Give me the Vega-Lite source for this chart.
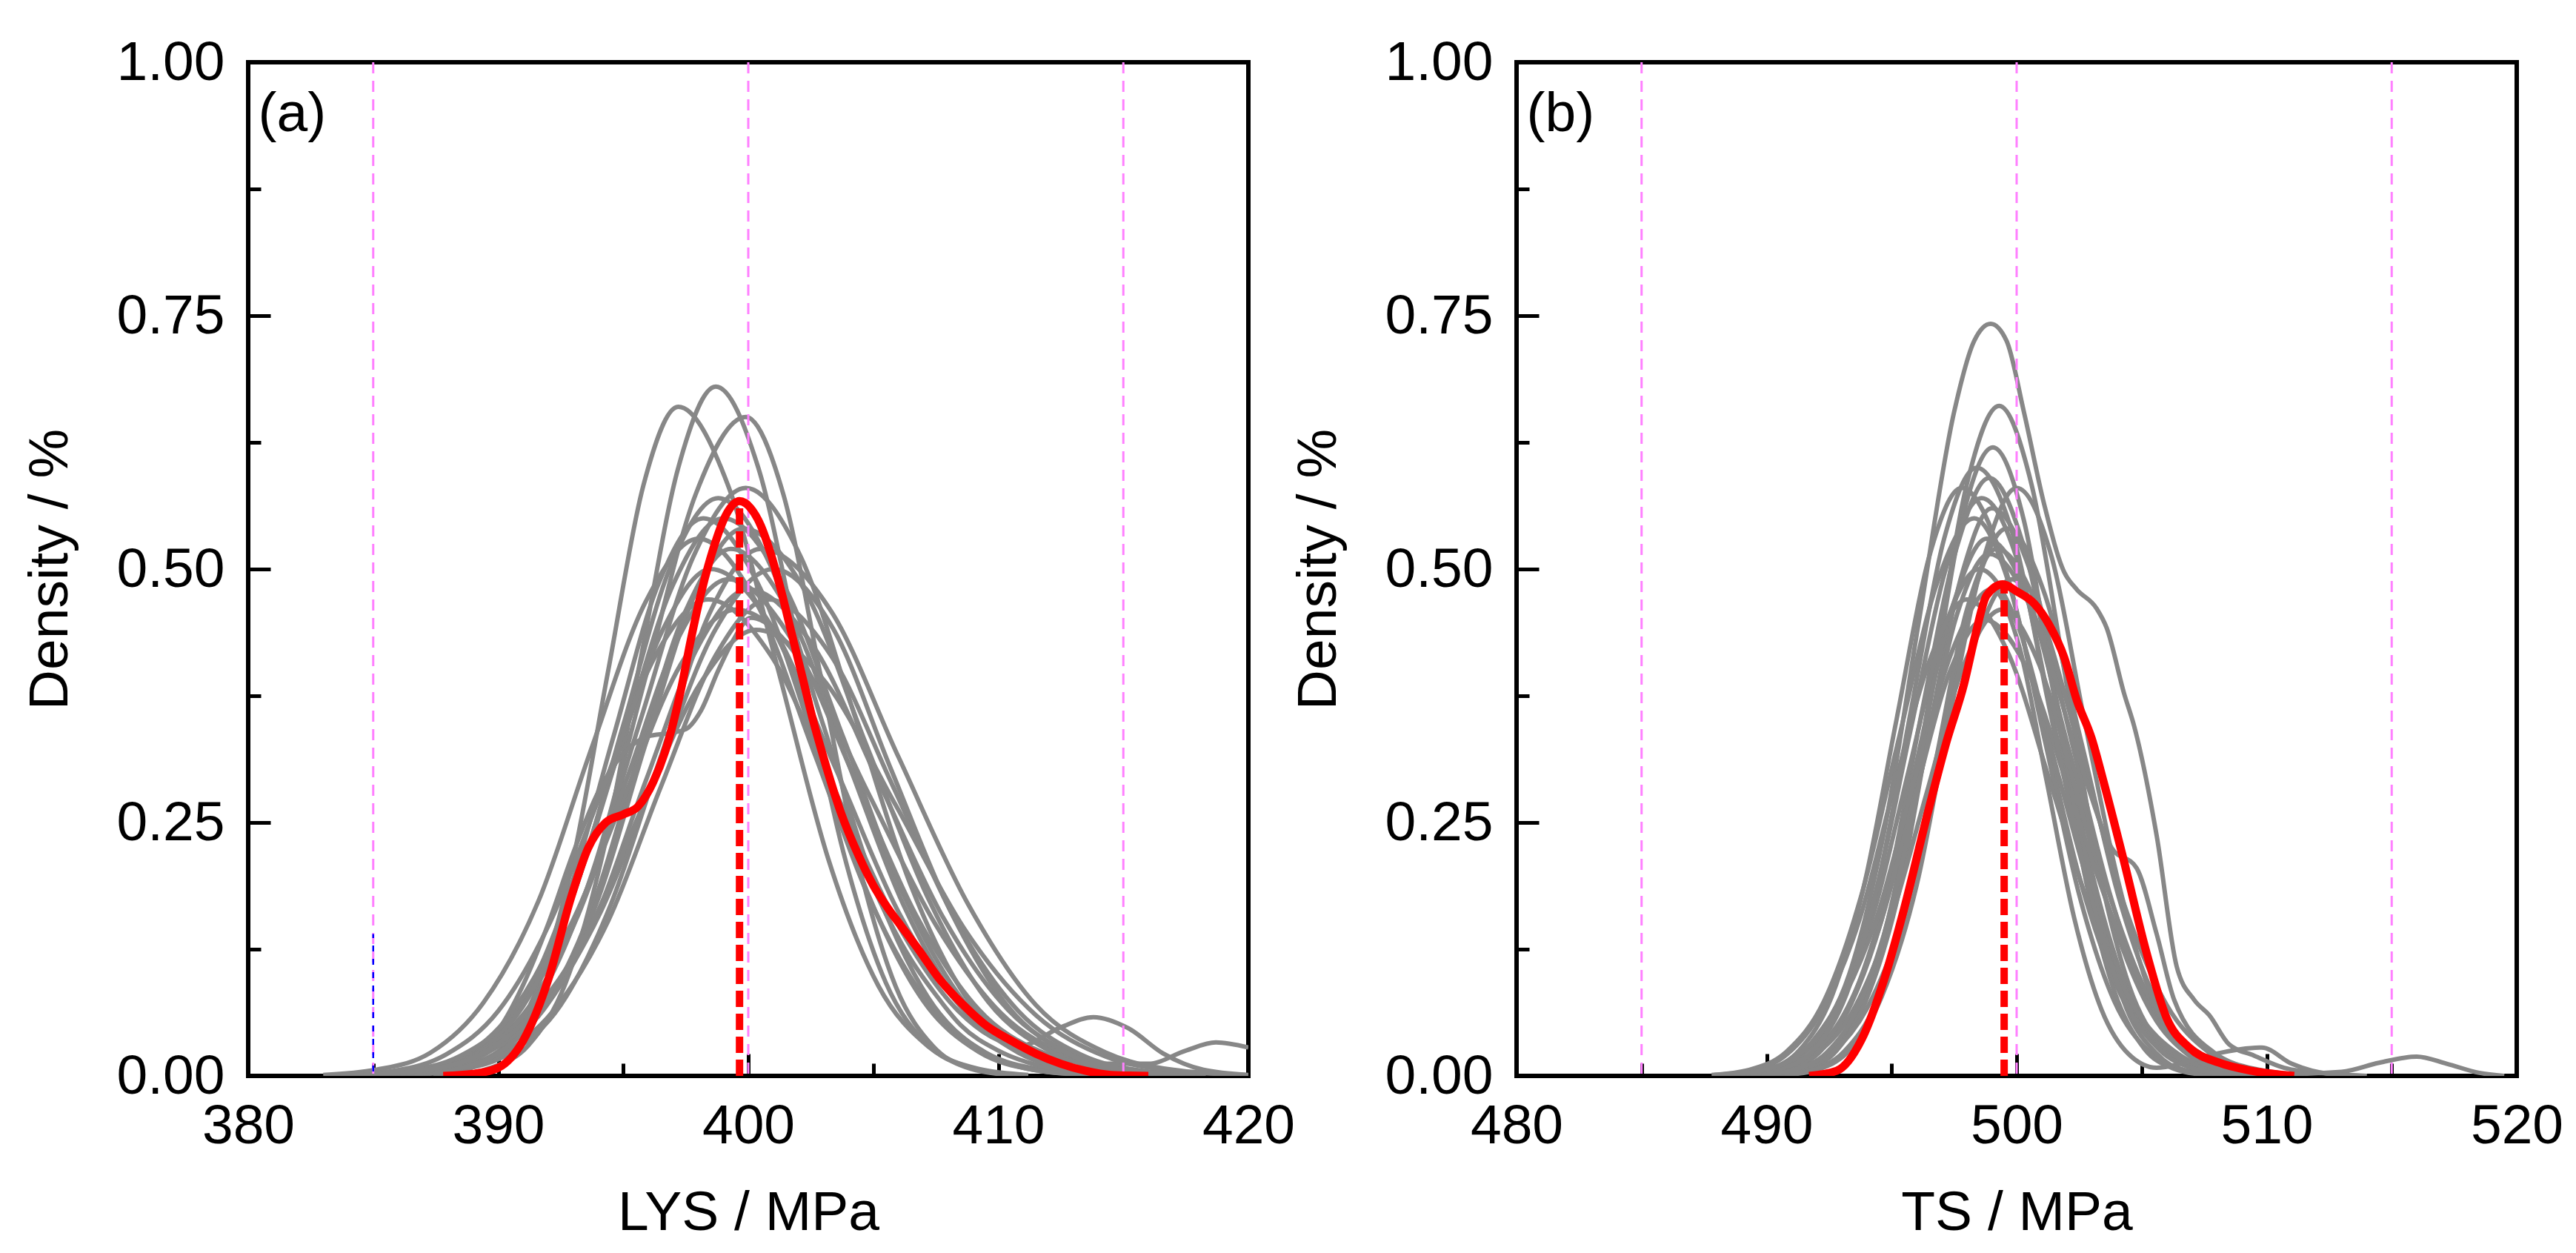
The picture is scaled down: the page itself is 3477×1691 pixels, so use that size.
{
  "$schema": "https://vega.github.io/schema/vega-lite/v6.json",
  "description": "Density curves of LYS and TS, grey runs with the red mean curve.",
  "background": "white",
  "padding": {"left": 27, "top": 44, "right": 20, "bottom": 10},
  "autosize": {"type": "pad"},
  "bounds": "flush",
  "spacing": 362,
  "config": {
    "view": {"stroke": "black", "strokeWidth": 6},
    "axis": {
      "domain": false,
      "grid": false,
      "tickColor": "black",
      "tickWidth": 5,
      "labelFont": "Liberation Sans",
      "labelFontSize": 75,
      "labelColor": "black",
      "labelFlush": false,
      "labelOverlap": false,
      "titleFont": "Liberation Sans",
      "titleFontSize": 75,
      "titleFontWeight": "normal",
      "titleColor": "black"
    }
  },
  "datasets": {
    "ga": [
      {"c":1,"x":387.4,"y":0.001},{"c":1,"x":388.8,"y":0.007},{"c":1,"x":390.2,"y":0.029},{"c":1,"x":391.6,"y":0.089},{"c":1,"x":393.0,"y":0.214},{"c":1,"x":394.4,"y":0.4},{"c":1,"x":395.8,"y":0.582},{"c":1,"x":397.2,"y":0.66},{"c":1,"x":399.2,"y":0.582},{"c":1,"x":401.2,"y":0.4},{"c":1,"x":403.2,"y":0.214},{"c":1,"x":405.2,"y":0.089},{"c":1,"x":407.2,"y":0.029},{"c":1,"x":409.2,"y":0.007},{"c":1,"x":411.2,"y":0.001},
      {"c":2,"x":388.2,"y":0.001},{"c":2,"x":389.7,"y":0.008},{"c":2,"x":391.2,"y":0.03},{"c":2,"x":392.7,"y":0.092},{"c":2,"x":394.2,"y":0.221},{"c":2,"x":395.7,"y":0.412},{"c":2,"x":397.2,"y":0.6},{"c":2,"x":398.7,"y":0.68},{"c":2,"x":400.4,"y":0.6},{"c":2,"x":402.1,"y":0.412},{"c":2,"x":403.8,"y":0.221},{"c":2,"x":405.5,"y":0.092},{"c":2,"x":407.2,"y":0.03},{"c":2,"x":408.9,"y":0.008},{"c":2,"x":410.6,"y":0.001},
      {"c":3,"x":385.9,"y":0.001},{"c":3,"x":387.9,"y":0.007},{"c":3,"x":389.9,"y":0.029},{"c":3,"x":391.9,"y":0.088},{"c":3,"x":393.9,"y":0.211},{"c":3,"x":395.9,"y":0.394},{"c":3,"x":397.9,"y":0.574},{"c":3,"x":399.9,"y":0.65},{"c":3,"x":401.4,"y":0.574},{"c":3,"x":402.9,"y":0.394},{"c":3,"x":404.4,"y":0.211},{"c":3,"x":405.9,"y":0.088},{"c":3,"x":407.4,"y":0.029},{"c":3,"x":408.9,"y":0.007},{"c":3,"x":410.4,"y":0.001},
      {"c":4,"x":385.2,"y":0.001},{"c":4,"x":387.3,"y":0.006},{"c":4,"x":389.4,"y":0.025},{"c":4,"x":391.5,"y":0.078},{"c":4,"x":393.6,"y":0.188},{"c":4,"x":395.7,"y":0.352},{"c":4,"x":397.8,"y":0.512},{"c":4,"x":399.9,"y":0.58},{"c":4,"x":402.1,"y":0.512},{"c":4,"x":404.3,"y":0.352},{"c":4,"x":406.5,"y":0.188},{"c":4,"x":408.7,"y":0.078},{"c":4,"x":410.9,"y":0.025},{"c":4,"x":413.1,"y":0.006},{"c":4,"x":415.3,"y":0.001},
      {"c":5,"x":386,"y":0.001},{"c":5,"x":388,"y":0.01},{"c":5,"x":390,"y":0.045},{"c":5,"x":391,"y":0.09},{"c":5,"x":392,"y":0.15},{"c":5,"x":393,"y":0.22},{"c":5,"x":394,"y":0.28},{"c":5,"x":395,"y":0.318},{"c":5,"x":396,"y":0.335},{"c":5,"x":396.8,"y":0.338},{"c":5,"x":397.5,"y":0.342},{"c":5,"x":398.1,"y":0.36},{"c":5,"x":398.8,"y":0.4},{"c":5,"x":399.4,"y":0.43},{"c":5,"x":400.1,"y":0.452},{"c":5,"x":400.8,"y":0.445},{"c":5,"x":401.6,"y":0.41},{"c":5,"x":402.5,"y":0.35},{"c":5,"x":403.5,"y":0.28},{"c":5,"x":404.5,"y":0.215},{"c":5,"x":405.5,"y":0.16},{"c":5,"x":406.5,"y":0.115},{"c":5,"x":407.5,"y":0.08},{"c":5,"x":408.5,"y":0.05},{"c":5,"x":410,"y":0.025},{"c":5,"x":412,"y":0.008},{"c":5,"x":414,"y":0.002},{"c":5,"x":416,"y":0},
      {"c":6,"x":383.0,"y":0.001},{"c":6,"x":385.1,"y":0.006},{"c":6,"x":387.3,"y":0.023},{"c":6,"x":389.4,"y":0.072},{"c":6,"x":391.6,"y":0.172},{"c":6,"x":393.7,"y":0.321},{"c":6,"x":395.9,"y":0.468},{"c":6,"x":398.0,"y":0.53},{"c":6,"x":400.3,"y":0.468},{"c":6,"x":402.6,"y":0.321},{"c":6,"x":404.9,"y":0.172},{"c":6,"x":407.2,"y":0.072},{"c":6,"x":409.5,"y":0.023},{"c":6,"x":411.8,"y":0.006},{"c":6,"x":414.1,"y":0.001},
      {"c":7,"x":386.5,"y":0.001},{"c":7,"x":388.5,"y":0.006},{"c":7,"x":390.5,"y":0.023},{"c":7,"x":392.5,"y":0.07},{"c":7,"x":394.5,"y":0.169},{"c":7,"x":396.5,"y":0.315},{"c":7,"x":398.5,"y":0.459},{"c":7,"x":400.5,"y":0.52},{"c":7,"x":403.3,"y":0.459},{"c":7,"x":406.0,"y":0.315},{"c":7,"x":408.8,"y":0.169},{"c":7,"x":411.5,"y":0.07},{"c":7,"x":414.3,"y":0.023},{"c":7,"x":417.0,"y":0.006},{"c":7,"x":419.8,"y":0.001},
      {"c":8,"x":385.0,"y":0.001},{"c":8,"x":387.0,"y":0.006},{"c":8,"x":389.0,"y":0.024},{"c":8,"x":391.0,"y":0.074},{"c":8,"x":393.0,"y":0.179},{"c":8,"x":395.0,"y":0.334},{"c":8,"x":397.0,"y":0.485},{"c":8,"x":399.0,"y":0.55},{"c":8,"x":401.4,"y":0.485},{"c":8,"x":403.8,"y":0.334},{"c":8,"x":406.2,"y":0.179},{"c":8,"x":408.6,"y":0.074},{"c":8,"x":411.0,"y":0.024},{"c":8,"x":413.4,"y":0.006},{"c":8,"x":415.8,"y":0.001},
      {"c":9,"x":384.9,"y":0.001},{"c":9,"x":386.8,"y":0.006},{"c":9,"x":388.8,"y":0.022},{"c":9,"x":390.7,"y":0.068},{"c":9,"x":392.7,"y":0.162},{"c":9,"x":394.6,"y":0.303},{"c":9,"x":396.6,"y":0.441},{"c":9,"x":398.5,"y":0.5},{"c":9,"x":401.0,"y":0.441},{"c":9,"x":403.5,"y":0.303},{"c":9,"x":406.0,"y":0.162},{"c":9,"x":408.5,"y":0.068},{"c":9,"x":411.0,"y":0.022},{"c":9,"x":413.5,"y":0.006},{"c":9,"x":416.0,"y":0.001},
      {"c":10,"x":385.7,"y":0.001},{"c":10,"x":387.7,"y":0.005},{"c":10,"x":389.8,"y":0.021},{"c":10,"x":391.8,"y":0.065},{"c":10,"x":393.9,"y":0.156},{"c":10,"x":395.9,"y":0.291},{"c":10,"x":398.0,"y":0.424},{"c":10,"x":400.0,"y":0.48},{"c":10,"x":402.6,"y":0.424},{"c":10,"x":405.2,"y":0.291},{"c":10,"x":407.8,"y":0.156},{"c":10,"x":410.4,"y":0.065},{"c":10,"x":413.0,"y":0.021},{"c":10,"x":415.6,"y":0.005},{"c":10,"x":418.2,"y":0.001},
      {"c":11,"x":386.4,"y":0.001},{"c":11,"x":388.2,"y":0.006},{"c":11,"x":390.0,"y":0.023},{"c":11,"x":391.9,"y":0.07},{"c":11,"x":393.8,"y":0.169},{"c":11,"x":395.6,"y":0.315},{"c":11,"x":397.5,"y":0.459},{"c":11,"x":399.3,"y":0.52},{"c":11,"x":401.6,"y":0.459},{"c":11,"x":403.9,"y":0.315},{"c":11,"x":406.2,"y":0.169},{"c":11,"x":408.5,"y":0.07},{"c":11,"x":410.8,"y":0.023},{"c":11,"x":413.1,"y":0.006},{"c":11,"x":415.4,"y":0.001},
      {"c":12,"x":385.6,"y":0.001},{"c":12,"x":387.4,"y":0.006},{"c":12,"x":389.2,"y":0.024},{"c":12,"x":391.0,"y":0.074},{"c":12,"x":392.8,"y":0.179},{"c":12,"x":394.6,"y":0.334},{"c":12,"x":396.4,"y":0.485},{"c":12,"x":398.2,"y":0.55},{"c":12,"x":400.4,"y":0.485},{"c":12,"x":402.6,"y":0.334},{"c":12,"x":404.8,"y":0.179},{"c":12,"x":407.0,"y":0.074},{"c":12,"x":409.2,"y":0.024},{"c":12,"x":411.4,"y":0.006},{"c":12,"x":413.6,"y":0.001},
      {"c":13,"x":385.8,"y":0.001},{"c":13,"x":387.9,"y":0.005},{"c":13,"x":390.1,"y":0.021},{"c":13,"x":392.2,"y":0.064},{"c":13,"x":394.4,"y":0.153},{"c":13,"x":396.5,"y":0.285},{"c":13,"x":398.7,"y":0.415},{"c":13,"x":400.8,"y":0.47},{"c":13,"x":403.3,"y":0.415},{"c":13,"x":405.8,"y":0.285},{"c":13,"x":408.3,"y":0.153},{"c":13,"x":410.8,"y":0.064},{"c":13,"x":413.3,"y":0.021},{"c":13,"x":415.8,"y":0.005},{"c":13,"x":418.3,"y":0.001},
      {"c":14,"x":384.1,"y":0.001},{"c":14,"x":386.3,"y":0.005},{"c":14,"x":388.5,"y":0.02},{"c":14,"x":390.7,"y":0.062},{"c":14,"x":392.9,"y":0.149},{"c":14,"x":395.1,"y":0.279},{"c":14,"x":397.3,"y":0.406},{"c":14,"x":399.5,"y":0.46},{"c":14,"x":402.2,"y":0.406},{"c":14,"x":404.8,"y":0.279},{"c":14,"x":407.5,"y":0.149},{"c":14,"x":410.1,"y":0.062},{"c":14,"x":412.8,"y":0.02},{"c":14,"x":415.4,"y":0.005},{"c":14,"x":418.1,"y":0.001},
      {"c":15,"x":385.5,"y":0.001},{"c":15,"x":387.4,"y":0.006},{"c":15,"x":389.3,"y":0.025},{"c":15,"x":391.2,"y":0.077},{"c":15,"x":393.1,"y":0.185},{"c":15,"x":395.0,"y":0.346},{"c":15,"x":396.9,"y":0.503},{"c":15,"x":398.8,"y":0.57},{"c":15,"x":400.9,"y":0.503},{"c":15,"x":403.0,"y":0.346},{"c":15,"x":405.1,"y":0.185},{"c":15,"x":407.2,"y":0.077},{"c":15,"x":409.3,"y":0.025},{"c":15,"x":411.4,"y":0.006},{"c":15,"x":413.5,"y":0.001},
      {"c":16,"x":386.2,"y":0.001},{"c":16,"x":388.1,"y":0.006},{"c":16,"x":390.1,"y":0.024},{"c":16,"x":392.0,"y":0.073},{"c":16,"x":394.0,"y":0.175},{"c":16,"x":395.9,"y":0.328},{"c":16,"x":397.9,"y":0.477},{"c":16,"x":399.8,"y":0.54},{"c":16,"x":402.3,"y":0.477},{"c":16,"x":404.7,"y":0.328},{"c":16,"x":407.2,"y":0.175},{"c":16,"x":409.6,"y":0.073},{"c":16,"x":412.1,"y":0.024},{"c":16,"x":414.5,"y":0.006},{"c":16,"x":417.0,"y":0.001},
      {"c":17,"x":384.9,"y":0.001},{"c":17,"x":387.2,"y":0.006},{"c":17,"x":389.5,"y":0.022},{"c":17,"x":391.8,"y":0.068},{"c":17,"x":394.1,"y":0.162},{"c":17,"x":396.4,"y":0.303},{"c":17,"x":398.7,"y":0.441},{"c":17,"x":401.0,"y":0.5},{"c":17,"x":403.4,"y":0.441},{"c":17,"x":405.7,"y":0.303},{"c":17,"x":408.1,"y":0.162},{"c":17,"x":410.4,"y":0.068},{"c":17,"x":412.8,"y":0.022},{"c":17,"x":415.1,"y":0.006},{"c":17,"x":417.5,"y":0.001},
      {"c":18,"x":383.7,"y":0.001},{"c":18,"x":385.8,"y":0.005},{"c":18,"x":387.9,"y":0.021},{"c":18,"x":390.0,"y":0.064},{"c":18,"x":392.1,"y":0.153},{"c":18,"x":394.2,"y":0.285},{"c":18,"x":396.3,"y":0.415},{"c":18,"x":398.4,"y":0.47},{"c":18,"x":400.9,"y":0.415},{"c":18,"x":403.4,"y":0.285},{"c":18,"x":405.9,"y":0.153},{"c":18,"x":408.4,"y":0.064},{"c":18,"x":410.9,"y":0.03},{"c":18,"x":412.5,"y":0.048},{"c":18,"x":413.8,"y":0.058},{"c":18,"x":415.2,"y":0.047},{"c":18,"x":416.6,"y":0.022},{"c":18,"x":418.2,"y":0.006},{"c":18,"x":420,"y":0.001},
      {"c":19,"x":385.2,"y":0.001},{"c":19,"x":387.2,"y":0.005},{"c":19,"x":389.2,"y":0.022},{"c":19,"x":391.2,"y":0.066},{"c":19,"x":393.2,"y":0.159},{"c":19,"x":395.2,"y":0.297},{"c":19,"x":397.2,"y":0.432},{"c":19,"x":399.2,"y":0.49},{"c":19,"x":401.7,"y":0.432},{"c":19,"x":404.2,"y":0.297},{"c":19,"x":406.7,"y":0.159},{"c":19,"x":409.2,"y":0.066},{"c":19,"x":411.7,"y":0.024},{"c":19,"x":414.0,"y":0.012},{"c":19,"x":416.0,"y":0.012},{"c":19,"x":417.5,"y":0.025},{"c":19,"x":418.7,"y":0.033},{"c":19,"x":420,"y":0.028},
      {"c":20,"x":384.6,"y":0.001},{"c":20,"x":386.8,"y":0.005},{"c":20,"x":389.1,"y":0.019},{"c":20,"x":391.3,"y":0.06},{"c":20,"x":393.6,"y":0.143},{"c":20,"x":395.8,"y":0.267},{"c":20,"x":398.1,"y":0.388},{"c":20,"x":400.3,"y":0.44},{"c":20,"x":403.1,"y":0.388},{"c":20,"x":405.9,"y":0.267},{"c":20,"x":408.7,"y":0.143},{"c":20,"x":411.5,"y":0.06},{"c":20,"x":414.3,"y":0.019},{"c":20,"x":417.1,"y":0.005},{"c":20,"x":419.9,"y":0.001}
    ],
    "ra": [
      {"x":387.8,"y":0},{"x":389,"y":0.002},{"x":390,"y":0.008},{"x":391,"y":0.035},{"x":392,"y":0.095},{"x":392.9,"y":0.175},{"x":393.6,"y":0.225},{"x":394.3,"y":0.25},{"x":395.0,"y":0.258},{"x":395.6,"y":0.266},{"x":396.2,"y":0.29},{"x":396.8,"y":0.33},{"x":397.3,"y":0.38},{"x":397.7,"y":0.43},{"x":398.1,"y":0.475},{"x":398.6,"y":0.52},{"x":399.1,"y":0.553},{"x":399.65,"y":0.567},{"x":400.1,"y":0.56},{"x":400.5,"y":0.543},{"x":400.9,"y":0.515},{"x":401.3,"y":0.48},{"x":401.7,"y":0.44},{"x":402.2,"y":0.39},{"x":402.6,"y":0.35},{"x":403.0,"y":0.315},{"x":403.7,"y":0.26},{"x":404.4,"y":0.218},{"x":405.0,"y":0.188},{"x":405.6,"y":0.165},{"x":406.2,"y":0.145},{"x":406.8,"y":0.125},{"x":407.6,"y":0.097},{"x":408.6,"y":0.07},{"x":409.5,"y":0.05},{"x":410.5,"y":0.035},{"x":411.5,"y":0.022},{"x":412.5,"y":0.012},{"x":413.5,"y":0.005},{"x":414.5,"y":0.001},{"x":416.0,"y":0}
    ],
    "gb": [
      {"c":1,"x":489.0,"y":0.002},{"c":1,"x":490.4,"y":0.008},{"c":1,"x":491.8,"y":0.033},{"c":1,"x":493.3,"y":0.1},{"c":1,"x":494.7,"y":0.241},{"c":1,"x":496.1,"y":0.45},{"c":1,"x":497.5,"y":0.655},{"c":1,"x":498.3,"y":0.725},{"c":1,"x":498.96,"y":0.742},{"c":1,"x":499.6,"y":0.725},{"c":1,"x":500.3,"y":0.654},{"c":1,"x":501.1,"y":0.564},{"c":1,"x":501.9,"y":0.497},{"c":1,"x":502.4,"y":0.48},{"c":1,"x":503.2,"y":0.461},{"c":1,"x":503.6,"y":0.442},{"c":1,"x":504.3,"y":0.377},{"c":1,"x":504.7,"y":0.345},{"c":1,"x":505.6,"y":0.237},{"c":1,"x":506.4,"y":0.108},{"c":1,"x":507.1,"y":0.075},{"c":1,"x":507.7,"y":0.06},{"c":1,"x":508.5,"y":0.031},{"c":1,"x":509.5,"y":0.02},{"c":1,"x":510.7,"y":0.008},{"c":1,"x":512.5,"y":0.002},{"c":1,"x":514,"y":0},
      {"c":2,"x":490.2,"y":0.001},{"c":2,"x":491.5,"y":0.007},{"c":2,"x":492.8,"y":0.029},{"c":2,"x":494.1,"y":0.089},{"c":2,"x":495.4,"y":0.215},{"c":2,"x":496.7,"y":0.401},{"c":2,"x":498.0,"y":0.583},{"c":2,"x":499.3,"y":0.661},{"c":2,"x":500.6,"y":0.583},{"c":2,"x":501.9,"y":0.401},{"c":2,"x":503.2,"y":0.215},{"c":2,"x":504.5,"y":0.089},{"c":2,"x":505.8,"y":0.029},{"c":2,"x":507.1,"y":0.007},{"c":2,"x":508.4,"y":0.001},
      {"c":3,"x":490.3,"y":0.001},{"c":3,"x":491.6,"y":0.007},{"c":3,"x":492.8,"y":0.027},{"c":3,"x":494.1,"y":0.084},{"c":3,"x":495.3,"y":0.201},{"c":3,"x":496.6,"y":0.376},{"c":3,"x":497.8,"y":0.547},{"c":3,"x":499.05,"y":0.62},{"c":3,"x":500.3,"y":0.547},{"c":3,"x":501.5,"y":0.376},{"c":3,"x":502.7,"y":0.201},{"c":3,"x":503.9,"y":0.084},{"c":3,"x":505.1,"y":0.027},{"c":3,"x":506.3,"y":0.007},{"c":3,"x":507.5,"y":0.001},
      {"c":4,"x":489.5,"y":0.001},{"c":4,"x":490.8,"y":0.007},{"c":4,"x":492.2,"y":0.026},{"c":4,"x":493.5,"y":0.08},{"c":4,"x":494.9,"y":0.192},{"c":4,"x":496.2,"y":0.358},{"c":4,"x":497.6,"y":0.521},{"c":4,"x":498.9,"y":0.59},{"c":4,"x":500.3,"y":0.521},{"c":4,"x":501.7,"y":0.358},{"c":4,"x":503.1,"y":0.192},{"c":4,"x":504.5,"y":0.08},{"c":4,"x":505.9,"y":0.026},{"c":4,"x":507.3,"y":0.007},{"c":4,"x":508.7,"y":0.001},
      {"c":5,"x":488.7,"y":0.001},{"c":5,"x":490.0,"y":0.006},{"c":5,"x":491.3,"y":0.025},{"c":5,"x":492.6,"y":0.078},{"c":5,"x":493.9,"y":0.188},{"c":5,"x":495.2,"y":0.352},{"c":5,"x":496.5,"y":0.512},{"c":5,"x":497.8,"y":0.58},{"c":5,"x":499.4,"y":0.512},{"c":5,"x":501.0,"y":0.352},{"c":5,"x":502.6,"y":0.188},{"c":5,"x":504.2,"y":0.078},{"c":5,"x":505.8,"y":0.025},{"c":5,"x":507.4,"y":0.006},{"c":5,"x":509.0,"y":0.001},
      {"c":6,"x":488.8,"y":0.001},{"c":6,"x":490.2,"y":0.006},{"c":6,"x":491.6,"y":0.025},{"c":6,"x":493.0,"y":0.077},{"c":6,"x":494.4,"y":0.185},{"c":6,"x":495.8,"y":0.346},{"c":6,"x":497.2,"y":0.503},{"c":6,"x":498.6,"y":0.57},{"c":6,"x":500.1,"y":0.503},{"c":6,"x":501.5,"y":0.346},{"c":6,"x":503.0,"y":0.185},{"c":6,"x":504.4,"y":0.077},{"c":6,"x":505.9,"y":0.025},{"c":6,"x":507.3,"y":0.006},{"c":6,"x":508.8,"y":0.001},
      {"c":7,"x":490.3,"y":0.001},{"c":7,"x":491.5,"y":0.006},{"c":7,"x":492.8,"y":0.025},{"c":7,"x":494.0,"y":0.076},{"c":7,"x":495.3,"y":0.182},{"c":7,"x":496.5,"y":0.34},{"c":7,"x":497.8,"y":0.494},{"c":7,"x":499.0,"y":0.56},{"c":7,"x":500.6,"y":0.494},{"c":7,"x":502.1,"y":0.34},{"c":7,"x":503.7,"y":0.182},{"c":7,"x":505.2,"y":0.076},{"c":7,"x":506.8,"y":0.025},{"c":7,"x":508.3,"y":0.006},{"c":7,"x":509.9,"y":0.001},
      {"c":8,"x":487.8,"y":0.001},{"c":8,"x":489.3,"y":0.006},{"c":8,"x":490.8,"y":0.024},{"c":8,"x":492.3,"y":0.074},{"c":8,"x":493.8,"y":0.179},{"c":8,"x":495.3,"y":0.334},{"c":8,"x":496.8,"y":0.485},{"c":8,"x":498.3,"y":0.55},{"c":8,"x":499.7,"y":0.485},{"c":8,"x":501.1,"y":0.334},{"c":8,"x":502.5,"y":0.179},{"c":8,"x":503.9,"y":0.074},{"c":8,"x":505.3,"y":0.024},{"c":8,"x":506.7,"y":0.006},{"c":8,"x":508.1,"y":0.001},
      {"c":9,"x":490.5,"y":0.001},{"c":9,"x":491.8,"y":0.006},{"c":9,"x":493.1,"y":0.024},{"c":9,"x":494.4,"y":0.073},{"c":9,"x":495.7,"y":0.175},{"c":9,"x":497.0,"y":0.328},{"c":9,"x":498.3,"y":0.477},{"c":9,"x":499.6,"y":0.54},{"c":9,"x":501.1,"y":0.477},{"c":9,"x":502.6,"y":0.328},{"c":9,"x":504.1,"y":0.175},{"c":9,"x":505.6,"y":0.073},{"c":9,"x":507.1,"y":0.024},{"c":9,"x":508.6,"y":0.006},{"c":9,"x":510.1,"y":0.001},
      {"c":10,"x":489.4,"y":0.001},{"c":10,"x":490.7,"y":0.006},{"c":10,"x":492.1,"y":0.023},{"c":10,"x":493.4,"y":0.072},{"c":10,"x":494.8,"y":0.172},{"c":10,"x":496.1,"y":0.321},{"c":10,"x":497.5,"y":0.468},{"c":10,"x":498.8,"y":0.53},{"c":10,"x":500.5,"y":0.468},{"c":10,"x":502.1,"y":0.321},{"c":10,"x":503.8,"y":0.172},{"c":10,"x":505.4,"y":0.072},{"c":10,"x":507.1,"y":0.023},{"c":10,"x":508.7,"y":0.006},{"c":10,"x":510.4,"y":0.001},
      {"c":11,"x":490.8,"y":0.001},{"c":11,"x":492.0,"y":0.006},{"c":11,"x":493.2,"y":0.023},{"c":11,"x":494.4,"y":0.07},{"c":11,"x":495.6,"y":0.169},{"c":11,"x":496.8,"y":0.315},{"c":11,"x":498.0,"y":0.459},{"c":11,"x":499.2,"y":0.52},{"c":11,"x":500.9,"y":0.459},{"c":11,"x":502.6,"y":0.315},{"c":11,"x":504.3,"y":0.169},{"c":11,"x":506.0,"y":0.07},{"c":11,"x":507.7,"y":0.023},{"c":11,"x":509.4,"y":0.006},{"c":11,"x":511.1,"y":0.001},
      {"c":12,"x":488.7,"y":0.001},{"c":12,"x":490.1,"y":0.006},{"c":12,"x":491.5,"y":0.022},{"c":12,"x":492.9,"y":0.068},{"c":12,"x":494.3,"y":0.162},{"c":12,"x":495.7,"y":0.303},{"c":12,"x":497.1,"y":0.441},{"c":12,"x":498.5,"y":0.5},{"c":12,"x":500.1,"y":0.441},{"c":12,"x":501.6,"y":0.303},{"c":12,"x":503.2,"y":0.162},{"c":12,"x":504.7,"y":0.068},{"c":12,"x":506.3,"y":0.022},{"c":12,"x":507.8,"y":0.006},{"c":12,"x":509.4,"y":0.001},
      {"c":13,"x":489.7,"y":0.001},{"c":13,"x":491.1,"y":0.005},{"c":13,"x":492.6,"y":0.022},{"c":13,"x":494.0,"y":0.066},{"c":13,"x":495.5,"y":0.159},{"c":13,"x":496.9,"y":0.297},{"c":13,"x":498.4,"y":0.432},{"c":13,"x":499.8,"y":0.49},{"c":13,"x":501.0,"y":0.432},{"c":13,"x":502.1,"y":0.297},{"c":13,"x":503.3,"y":0.159},{"c":13,"x":504.4,"y":0.066},{"c":13,"x":505.6,"y":0.022},{"c":13,"x":506.7,"y":0.005},{"c":13,"x":507.9,"y":0.001},
      {"c":14,"x":487.9,"y":0.001},{"c":14,"x":489.3,"y":0.005},{"c":14,"x":490.8,"y":0.021},{"c":14,"x":492.2,"y":0.064},{"c":14,"x":493.7,"y":0.153},{"c":14,"x":495.1,"y":0.285},{"c":14,"x":496.6,"y":0.415},{"c":14,"x":498.0,"y":0.47},{"c":14,"x":499.7,"y":0.415},{"c":14,"x":501.4,"y":0.285},{"c":14,"x":503.1,"y":0.153},{"c":14,"x":504.8,"y":0.064},{"c":14,"x":506.5,"y":0.021},{"c":14,"x":508.2,"y":0.005},{"c":14,"x":509.9,"y":0.001},
      {"c":15,"x":488.9,"y":0.001},{"c":15,"x":490.4,"y":0.005},{"c":15,"x":491.9,"y":0.02},{"c":15,"x":493.4,"y":0.062},{"c":15,"x":494.9,"y":0.149},{"c":15,"x":496.4,"y":0.279},{"c":15,"x":497.9,"y":0.406},{"c":15,"x":499.4,"y":0.46},{"c":15,"x":500.9,"y":0.406},{"c":15,"x":502.4,"y":0.279},{"c":15,"x":503.9,"y":0.149},{"c":15,"x":505.4,"y":0.062},{"c":15,"x":506.9,"y":0.02},{"c":15,"x":508.4,"y":0.005},{"c":15,"x":509.9,"y":0.001},
      {"c":16,"x":488.9,"y":0.001},{"c":16,"x":490.3,"y":0.005},{"c":16,"x":491.7,"y":0.02},{"c":16,"x":493.1,"y":0.061},{"c":16,"x":494.5,"y":0.146},{"c":16,"x":495.9,"y":0.273},{"c":16,"x":497.3,"y":0.397},{"c":16,"x":498.7,"y":0.45},{"c":16,"x":500.5,"y":0.397},{"c":16,"x":502.2,"y":0.273},{"c":16,"x":504.0,"y":0.146},{"c":16,"x":505.7,"y":0.061},{"c":16,"x":507.5,"y":0.02},{"c":16,"x":509.2,"y":0.006},{"c":16,"x":511.0,"y":0.002},{"c":16,"x":513.0,"y":0.004},{"c":16,"x":514.5,"y":0.013},{"c":16,"x":516.0,"y":0.019},{"c":16,"x":517.2,"y":0.012},{"c":16,"x":518.5,"y":0.003},{"c":16,"x":519.5,"y":0},
      {"c":17,"x":490.6,"y":0.001},{"c":17,"x":491.9,"y":0.006},{"c":17,"x":493.3,"y":0.025},{"c":17,"x":494.6,"y":0.078},{"c":17,"x":496.0,"y":0.188},{"c":17,"x":497.3,"y":0.352},{"c":17,"x":498.7,"y":0.512},{"c":17,"x":500.0,"y":0.58},{"c":17,"x":501.4,"y":0.512},{"c":17,"x":502.7,"y":0.352},{"c":17,"x":504.1,"y":0.188},{"c":17,"x":505.4,"y":0.078},{"c":17,"x":506.8,"y":0.025},{"c":17,"x":508.1,"y":0.006},{"c":17,"x":509.5,"y":0.001},
      {"c":18,"x":489.3,"y":0.001},{"c":18,"x":490.6,"y":0.007},{"c":18,"x":491.9,"y":0.026},{"c":18,"x":493.2,"y":0.081},{"c":18,"x":494.5,"y":0.195},{"c":18,"x":495.8,"y":0.364},{"c":18,"x":497.1,"y":0.53},{"c":18,"x":498.4,"y":0.6},{"c":18,"x":499.9,"y":0.53},{"c":18,"x":501.3,"y":0.364},{"c":18,"x":502.8,"y":0.195},{"c":18,"x":504.2,"y":0.081},{"c":18,"x":505.7,"y":0.026},{"c":18,"x":507.1,"y":0.007},{"c":18,"x":508.6,"y":0.001},
      {"c":19,"x":488.2,"y":0.001},{"c":19,"x":489.7,"y":0.005},{"c":19,"x":491.3,"y":0.021},{"c":19,"x":492.8,"y":0.065},{"c":19,"x":494.4,"y":0.156},{"c":19,"x":495.9,"y":0.291},{"c":19,"x":497.5,"y":0.424},{"c":19,"x":499.0,"y":0.48},{"c":19,"x":500.1,"y":0.424},{"c":19,"x":501.2,"y":0.291},{"c":19,"x":502.3,"y":0.156},{"c":19,"x":503.4,"y":0.065},{"c":19,"x":504.5,"y":0.021},{"c":19,"x":505.6,"y":0.008},{"c":19,"x":506.7,"y":0.013},{"c":19,"x":508.0,"y":0.022},{"c":19,"x":509.8,"y":0.028},{"c":19,"x":511.0,"y":0.012},{"c":19,"x":512.5,"y":0.002},{"c":19,"x":514,"y":0},
      {"c":20,"x":489.8,"y":0.001},{"c":20,"x":491.1,"y":0.006},{"c":20,"x":492.4,"y":0.023},{"c":20,"x":493.7,"y":0.07},{"c":20,"x":495.0,"y":0.167},{"c":20,"x":496.3,"y":0.312},{"c":20,"x":497.6,"y":0.454},{"c":20,"x":498.9,"y":0.515},{"c":20,"x":500.7,"y":0.454},{"c":20,"x":502.5,"y":0.312},{"c":20,"x":503.8,"y":0.225},{"c":20,"x":504.8,"y":0.205},{"c":20,"x":505.6,"y":0.14},{"c":20,"x":506.3,"y":0.075},{"c":20,"x":507.9,"y":0.023},{"c":20,"x":509.7,"y":0.006},{"c":20,"x":511.5,"y":0.001}
    ],
    "rb": [
      {"x":491.7,"y":0},{"x":492.8,"y":0.005},{"x":493.8,"y":0.036},{"x":494.7,"y":0.095},{"x":495.5,"y":0.165},{"x":496.4,"y":0.255},{"x":497.2,"y":0.33},{"x":497.9,"y":0.387},{"x":498.35,"y":0.435},{"x":498.8,"y":0.474},{"x":499.45,"y":0.485},{"x":500.0,"y":0.478},{"x":500.7,"y":0.466},{"x":501.3,"y":0.445},{"x":501.9,"y":0.413},{"x":502.4,"y":0.371},{"x":503.0,"y":0.333},{"x":503.5,"y":0.288},{"x":504.3,"y":0.211},{"x":505.2,"y":0.121},{"x":506.0,"y":0.057},{"x":506.9,"y":0.028},{"x":508.1,"y":0.013},{"x":509.4,"y":0.005},{"x":511.1,"y":0}
    ]
  },
  "hconcat": [
    {
      "width": 1350,
      "height": 1368,
      "layer": [
        {
          "data": {"name": "ga"},
          "mark": {"type": "line", "color": "#878787", "strokeWidth": 6, "interpolate": "monotone", "clip": true},
          "encoding": {
            "x": {"field": "x", "type": "quantitative", "scale": {"domain": [380, 420], "nice": false, "zero": false},
              "axis": {"orient": "bottom", "values": [380, 385, 390, 395, 400, 405, 410, 415, 420],
                "labelExpr": "datum.value % 10 === 0 ? format(datum.value, 'd') : ''",
                "tickSize": {"expr": "datum.value % 10 === 0 ? -30 : -17"}, "labelPadding": 61, "title": "LYS / MPa", "titlePadding": 30}},
            "y": {"field": "y", "type": "quantitative", "scale": {"domain": [0, 1], "nice": false},
              "axis": {"orient": "left", "values": [0, 0.125, 0.25, 0.375, 0.5, 0.625, 0.75, 0.875, 1],
                "labelExpr": "(datum.value * 8) % 2 === 0 ? format(datum.value, '.2f') : ''",
                "tickSize": {"expr": "(datum.value * 8) % 2 === 0 ? -30 : -17"}, "labelPadding": 62, "title": "Density / %", "titlePadding": 51}},
            "detail": {"field": "c", "type": "nominal"}
          }
        },
        {
          "data": {"values": [{"x": 385}, {"x": 400}, {"x": 415}]},
          "mark": {"type": "rule", "color": "#FF80FF", "strokeWidth": 3, "strokeDash": [15, 10]},
          "encoding": {
            "x": {"field": "x", "type": "quantitative"}
          }
        },
        {
          "data": {"values": [{"x": 385, "y0": 0, "y": 0.14}]},
          "mark": {"type": "rule", "color": "#0000FF", "strokeWidth": 2.5, "strokeDash": [8, 10], "strokeDashOffset": 12},
          "encoding": {
            "x": {"field": "x", "type": "quantitative"},
            "y": {"field": "y0", "type": "quantitative"},
            "y2": {"field": "y"}
          }
        },
        {
          "data": {"name": "ra"},
          "mark": {"type": "line", "color": "#FF0000", "strokeWidth": 11, "interpolate": "monotone", "clip": true},
          "encoding": {
            "x": {"field": "x", "type": "quantitative"},
            "y": {"field": "y", "type": "quantitative"}
          }
        },
        {
          "data": {"values": [{"x": 399.65, "y0": 0, "y": 0.567}]},
          "mark": {"type": "rule", "color": "#FF0000", "strokeWidth": 10, "strokeDash": [22, 9]},
          "encoding": {
            "x": {"field": "x", "type": "quantitative"},
            "y": {"field": "y0", "type": "quantitative"},
            "y2": {"field": "y"}
          }
        },
        {
          "data": {"values": [{"label": "(a)"}]},
          "mark": {"type": "text", "align": "left", "baseline": "top", "font": "Liberation Sans", "fontSize": 75, "color": "black"},
          "encoding": {
            "x": {"datum": 380.4, "type": "quantitative"},
            "y": {"datum": 0.975, "type": "quantitative"},
            "text": {"field": "label"}
          }
        }
      ]
    },
    {
      "width": 1350,
      "height": 1368,
      "layer": [
        {
          "data": {"name": "gb"},
          "mark": {"type": "line", "color": "#878787", "strokeWidth": 6, "interpolate": "monotone", "clip": true},
          "encoding": {
            "x": {"field": "x", "type": "quantitative", "scale": {"domain": [480, 520], "nice": false, "zero": false},
              "axis": {"orient": "bottom", "values": [480, 485, 490, 495, 500, 505, 510, 515, 520],
                "labelExpr": "datum.value % 10 === 0 ? format(datum.value, 'd') : ''",
                "tickSize": {"expr": "datum.value % 10 === 0 ? -30 : -17"}, "labelPadding": 61, "title": "TS / MPa", "titlePadding": 30}},
            "y": {"field": "y", "type": "quantitative", "scale": {"domain": [0, 1], "nice": false},
              "axis": {"orient": "left", "values": [0, 0.125, 0.25, 0.375, 0.5, 0.625, 0.75, 0.875, 1],
                "labelExpr": "(datum.value * 8) % 2 === 0 ? format(datum.value, '.2f') : ''",
                "tickSize": {"expr": "(datum.value * 8) % 2 === 0 ? -30 : -17"}, "labelPadding": 62, "title": "Density / %", "titlePadding": 51}},
            "detail": {"field": "c", "type": "nominal"}
          }
        },
        {
          "data": {"values": [{"x": 485}, {"x": 500}, {"x": 515}]},
          "mark": {"type": "rule", "color": "#FF80FF", "strokeWidth": 3, "strokeDash": [15, 10]},
          "encoding": {
            "x": {"field": "x", "type": "quantitative"}
          }
        },
        {
          "data": {"name": "rb"},
          "mark": {"type": "line", "color": "#FF0000", "strokeWidth": 11, "interpolate": "monotone", "clip": true},
          "encoding": {
            "x": {"field": "x", "type": "quantitative"},
            "y": {"field": "y", "type": "quantitative"}
          }
        },
        {
          "data": {"values": [{"x": 499.5, "y0": 0, "y": 0.485}]},
          "mark": {"type": "rule", "color": "#FF0000", "strokeWidth": 10, "strokeDash": [22, 9]},
          "encoding": {
            "x": {"field": "x", "type": "quantitative"},
            "y": {"field": "y0", "type": "quantitative"},
            "y2": {"field": "y"}
          }
        },
        {
          "data": {"values": [{"label": "(b)"}]},
          "mark": {"type": "text", "align": "left", "baseline": "top", "font": "Liberation Sans", "fontSize": 75, "color": "black"},
          "encoding": {
            "x": {"datum": 480.4, "type": "quantitative"},
            "y": {"datum": 0.975, "type": "quantitative"},
            "text": {"field": "label"}
          }
        }
      ]
    }
  ]
}
